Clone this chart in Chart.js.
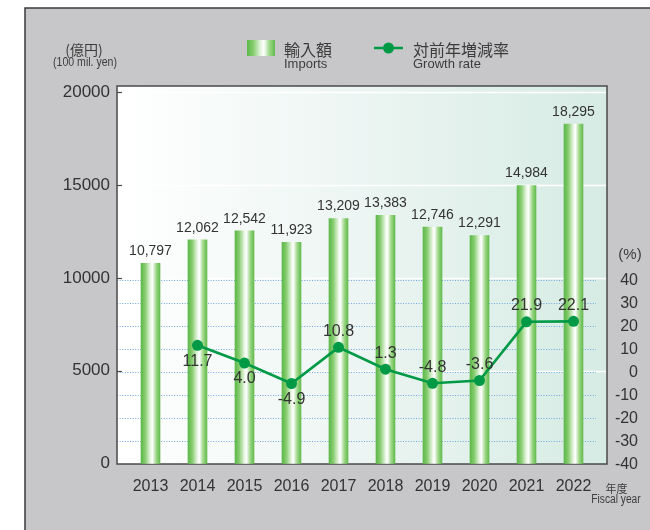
<!DOCTYPE html>
<html>
<head>
<meta charset="utf-8">
<script src="https://cdn.jsdelivr.net/npm/chart.js@4/dist/chart.umd.min.js"></script>
<style>
  html, body { margin: 0; padding: 0; background: #fff; }
  #wrap { width: 650px; height: 530px; }
</style>
</head>
<body>
<div id="wrap"><canvas id="chart" width="650" height="530"></canvas></div>
<script>
const years = ["2013", "2014", "2015", "2016", "2017", "2018", "2019", "2020", "2021", "2022"];
const imports = [10797, 12062, 12542, 11923, 13209, 13383, 12746, 12291, 14984, 18295];
const growth = [null, 11.7, 4.0, -4.9, 10.8, 1.3, -4.8, -3.6, 21.9, 22.1];
const leftTicks = [0, 5000, 10000, 15000, 20000];
const rightTicks = [-40, -30, -20, -10, 0, 10, 20, 30, 40];

const FONT = "'Liberation Sans', Arial, sans-serif";
const CJK = "'Noto Sans CJK JP', 'Noto Sans', sans-serif";
const TEXT = "#333333";
const LINE_GREEN = "#009a47";

// growth labels that sit under their point
const belowIdx = [1, 2, 3];

const barGradient = (ctx, x0, x1) => {
  const g = ctx.createLinearGradient(x0, 0, x1, 0);
  g.addColorStop(0, "#5cb848");
  g.addColorStop(0.22, "#86cc6f");
  g.addColorStop(0.5, "#eaf7e4");
  g.addColorStop(0.6, "#ffffff");
  g.addColorStop(0.8, "#9dd787");
  g.addColorStop(1, "#62bb4d");
  return g;
};

// condensed text, squeezed horizontally around its centre
const narrowText = (ctx, text, cx, cy, sx) => {
  ctx.save();
  ctx.translate(cx, cy);
  ctx.scale(sx, 1);
  ctx.textAlign = "center";
  ctx.fillText(text, 0, 0);
  ctx.restore();
};

// plot frame, background, grid lines, legend and extra captions
const frame = {
  id: "frame",
  beforeDraw(chart) {
    const { ctx, scales } = chart;
    const y = scales.y;
    const y1 = scales.y1;
    const L = 117, R = 607, T = 86, B = 464;
    ctx.save();
    // gray panel
    ctx.fillStyle = "#c7c7c9";
    ctx.fillRect(25, 8, 625, 522);
    ctx.strokeStyle = "#3a3a3a";
    ctx.lineWidth = 1.5;
    ctx.beginPath();
    ctx.moveTo(25, 530);
    ctx.lineTo(25, 8);
    ctx.lineTo(650, 8);
    ctx.stroke();

    // plot background
    const bg = ctx.createLinearGradient(L, 0, R, 0);
    bg.addColorStop(0, "#ffffff");
    bg.addColorStop(0.45, "#eef6f4");
    bg.addColorStop(1, "#d6ebe4");
    ctx.fillStyle = bg;
    ctx.fillRect(L, T, R - L, B - T);

    // white lines at the left ticks
    ctx.strokeStyle = "#ffffff";
    ctx.lineWidth = 1.5;
    leftTicks.slice(1).forEach((v) => {
      const py = Math.round(y.getPixelForValue(v)) + 0.5;
      ctx.beginPath();
      ctx.moveTo(L, py);
      ctx.lineTo(R, py);
      ctx.stroke();
    });

    // dotted blue lines at the right ticks
    ctx.strokeStyle = "#6ea6de";
    ctx.lineWidth = 1;
    ctx.setLineDash([1, 1.6]);
    rightTicks.slice(1).forEach((v) => {
      const py = Math.round(y1.getPixelForValue(v)) + 0.5;
      ctx.beginPath();
      ctx.moveTo(L, py);
      ctx.lineTo(596, py);
      ctx.stroke();
    });
    ctx.setLineDash([]);

    // frame
    ctx.strokeStyle = "#4a4a4a";
    ctx.lineWidth = 1.5;
    ctx.strokeRect(L, T, R - L, B - T);

    // small inner tick marks on the left
    ctx.lineWidth = 1.2;
    leftTicks.slice(1).forEach((v) => {
      const py = Math.round(y.getPixelForValue(v)) + 0.5;
      ctx.beginPath();
      ctx.moveTo(L, py);
      ctx.lineTo(L + 5, py);
      ctx.stroke();
    });

    // captions
    ctx.fillStyle = "#3c3c3c";
    ctx.textBaseline = "middle";
    ctx.textAlign = "center";
    ctx.font = "14px " + CJK;
    ctx.fillText("(億円)", 84, 50);
    ctx.font = "12px " + FONT;
    narrowText(ctx, "(100 mil. yen)", 85, 63, 0.88);
    ctx.font = "15px " + FONT;
    ctx.fillText("(%)", 630, 255);
    ctx.font = "11px " + CJK;
    ctx.fillText("年度", 616.5, 489);
    ctx.font = "12px " + FONT;
    narrowText(ctx, "Fiscal year", 616, 500, 0.85);

    // legend
    ctx.fillStyle = barGradient(ctx, 247, 275);
    ctx.fillRect(247, 40, 28, 16);
    ctx.textAlign = "left";
    ctx.fillStyle = "#3c3c3c";
    ctx.font = "16px " + CJK;
    ctx.fillText("輸入額", 284, 50);
    ctx.fillText("対前年増減率", 413, 50);
    ctx.font = "13px " + FONT;
    ctx.fillText("Imports", 284, 64);
    ctx.fillText("Growth rate", 413, 64);
    ctx.strokeStyle = LINE_GREEN;
    ctx.lineWidth = 2.5;
    ctx.beginPath();
    ctx.moveTo(374, 48);
    ctx.lineTo(403, 48);
    ctx.stroke();
    ctx.fillStyle = LINE_GREEN;
    ctx.beginPath();
    ctx.arc(388.5, 48, 5.5, 0, Math.PI * 2);
    ctx.fill();
    ctx.restore();
  },
};

// value labels
const valueLabels = {
  id: "valueLabels",
  afterDatasetsDraw(chart) {
    const { ctx } = chart;
    ctx.save();
    ctx.fillStyle = TEXT;
    ctx.textAlign = "center";
    ctx.textBaseline = "middle";
    ctx.font = "14px " + FONT;
    chart.getDatasetMeta(0).data.forEach((bar, i) => {
      ctx.fillText(imports[i].toLocaleString("en-US"), bar.x, bar.y - 12);
    });
    ctx.font = "16px " + FONT;
    chart.getDatasetMeta(1).data.forEach((pt, i) => {
      if (growth[i] === null) return;
      const dy = belowIdx.includes(i) ? 16 : -16;
      ctx.fillText(growth[i].toFixed(1), pt.x, pt.y + dy);
    });
    ctx.restore();
  },
};

const canvas = document.getElementById("chart");
// eslint-disable-next-line no-unused-vars
const importsChart = new Chart(canvas, {
  data: {
    labels: years,
    datasets: [
      {
        type: "bar",
        label: "輸入額",
        data: imports,
        yAxisID: "y",
        order: 2,
        barThickness: 19,
        borderWidth: 0,
        backgroundColor: (c) => {
          const xs = c.chart.scales.x;
          if (!xs || c.dataIndex === undefined) return "#6cbf50";
          const cx = xs.getPixelForValue(c.dataIndex);
          if (!Number.isFinite(cx)) return "#6cbf50";
          return barGradient(c.chart.ctx, cx - 9.5, cx + 9.5);
        },
      },
      {
        type: "line",
        label: "対前年増減率",
        data: growth,
        yAxisID: "y1",
        order: 1,
        borderColor: LINE_GREEN,
        backgroundColor: LINE_GREEN,
        pointBackgroundColor: LINE_GREEN,
        pointBorderWidth: 0,
        pointRadius: 5.5,
        borderWidth: 2.6,
        tension: 0,
        spanGaps: false,
      },
    ],
  },
  options: {
    responsive: false,
    animation: false,
    layout: {
      padding: { top: 86, left: 0, right: 12, bottom: 0 },
    },
    plugins: {
      legend: { display: false },
      tooltip: { enabled: false },
    },
    scales: {
      x: {
        type: "category",
        offset: true,
        grid: { display: false, drawTicks: false },
        border: { display: false },
        ticks: {
          color: TEXT,
          font: { family: FONT, size: 16 },
          padding: 13,
          maxRotation: 0,
          autoSkip: false,
        },
        afterFit: (s) => {
          s.height = 66;
        },
      },
      y: {
        position: "left",
        min: -27,
        max: 20350,
        afterBuildTicks: (s) => {
          s.ticks = leftTicks.map((v) => ({ value: v }));
        },
        grid: { display: false, drawTicks: false },
        border: { display: false },
        ticks: {
          color: TEXT,
          font: { family: FONT, size: 17 },
          padding: 17,
          callback: (v) => String(v),
        },
        afterFit: (s) => {
          s.width = 127;
        },
      },
      y1: {
        position: "right",
        min: -39.87,
        max: 124.35,
        afterBuildTicks: (s) => {
          s.ticks = rightTicks.map((v) => ({ value: v }));
        },
        grid: { display: false, drawTicks: false },
        border: { display: false },
        ticks: {
          color: TEXT,
          font: { family: FONT, size: 16 },
          padding: 10,
          crossAlign: "far",
          callback: (v) => String(v),
        },
        afterFit: (s) => {
          s.width = 41;
        },
      },
    },
  },
  plugins: [frame, valueLabels],
});
</script>
</body>
</html>
